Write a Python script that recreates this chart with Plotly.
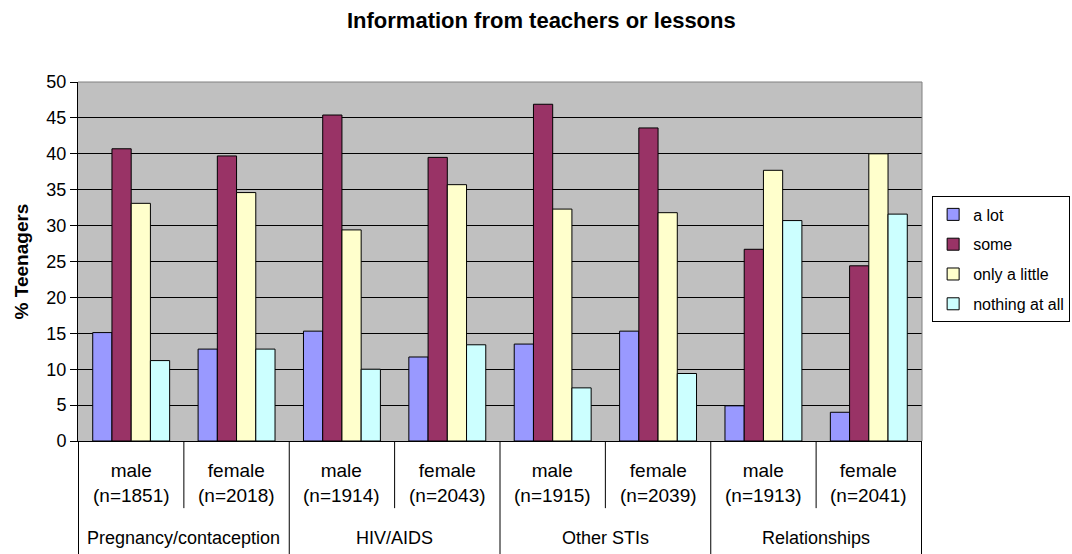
import plotly.graph_objects as go

topics = ["Pregnancy/contaception", "HIV/AIDS", "Other STIs", "Relationships"]
genders = ["male", "female"]
sample_sizes = [1851, 2018, 1914, 2043, 1915, 2039, 1913, 2041]

series_names = ["a lot", "some", "only a little", "nothing at all"]
a_lot = [15.1, 12.8, 15.3, 11.7, 13.5, 15.3, 4.9, 4.0]
some = [40.7, 39.7, 45.4, 39.5, 46.9, 43.6, 26.7, 24.4]
only_a_little = [33.1, 34.6, 29.4, 35.7, 32.3, 31.8, 37.7, 40.0]
nothing_at_all = [11.2, 12.8, 10.0, 13.4, 7.4, 9.4, 30.7, 31.6]
colors = ["#9999FF", "#993366", "#FFFFCC", "#CCFFFF"]

# one category per topic/gender column
cats = []
sub_labels = []
for i, t in enumerate(topics):
    for j, g in enumerate(genders):
        cats.append(t + " " + g)
        sub_labels.append(g + "<br>(n=" + str(sample_sizes[i * 2 + j]) + ")")

fig = go.Figure()
for name, vals, col in zip(series_names, [a_lot, some, only_a_little, nothing_at_all], colors):
    fig.add_trace(go.Bar(
        x=cats,
        y=vals,
        name=name,
        legendgroup=name,
        marker_color=col,
        marker_line=dict(color="black", width=1),
    ))

font = "Liberation Sans, Arial, sans-serif"

fig.update_layout(
    width=1072,
    height=554,
    barmode="group",
    bargap=0.27,
    bargroupgap=0,
    plot_bgcolor="#C0C0C0",
    paper_bgcolor="white",
    font=dict(family=font, size=18, color="black"),
    title=dict(text="<b>Information from teachers or lessons</b>",
               x=0.505, xanchor="center", y=0.963, yanchor="middle",
               font=dict(size=22)),
    margin=dict(l=78, r=150, t=82, b=113, pad=0, autoexpand=False),
    legend=dict(x=1.012, xanchor="left", y=0.5056, yanchor="middle",
                bordercolor="black", borderwidth=1, bgcolor="white",
                font=dict(size=16), tracegroupgap=6, itemwidth=30),
    showlegend=True,
)

fig.update_yaxes(
    range=[0, 50],
    dtick=5,
    showgrid=True,
    gridcolor="black",
    gridwidth=1,
    showline=True,
    linecolor="black",
    ticks="outside",
    ticklen=7,
    tickcolor="black",
    tickfont=dict(size=18),
    title=dict(text="<b>% Teenagers</b>", font=dict(size=19), standoff=12),
    zeroline=False,
)
fig.update_xaxes(
    type="category",
    showticklabels=False,
    showline=True,
    linecolor="black",
    showgrid=False,
)

# plot area border on top and right
fig.add_shape(type="line", xref="paper", yref="paper", x0=0, x1=1, y0=1, y1=1,
              line=dict(color="#808080", width=1))
fig.add_shape(type="line", xref="paper", yref="paper", x0=1, x1=1, y0=0, y1=1,
              line=dict(color="#808080", width=1))

# dividers of the category table below the axis
n = len(cats)
for k in range(n + 1):
    x = k - 0.5
    y1 = -0.315 if k % 2 == 0 else -0.187
    fig.add_shape(type="line", xref="x", yref="paper", x0=x, x1=x, y0=0, y1=y1,
                  line=dict(color="black", width=1))

for k, lab in enumerate(sub_labels):
    fig.add_annotation(x=k, y=-0.116, xref="x", yref="paper", text=lab,
                       showarrow=False, font=dict(size=19), yanchor="middle")

for i, t in enumerate(topics):
    fig.add_annotation(x=i * 2 + 0.5, y=-0.271, xref="x", yref="paper", text=t,
                       showarrow=False, font=dict(size=18), yanchor="middle")

fig.write_html("out.html", config={"displayModeBar": False},
               post_script="document.body.style.margin='0';")
